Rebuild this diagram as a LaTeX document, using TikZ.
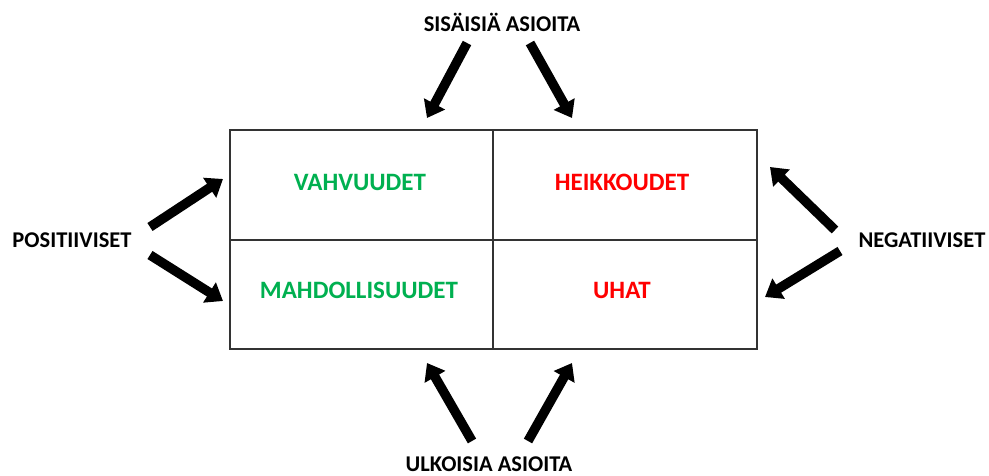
\documentclass[tikz,border=0pt]{standalone}
\usepackage{fontspec}
\setmainfont{Carlito}
\usetikzlibrary{arrows.meta}
\definecolor{swgreen}{HTML}{00B050}
\definecolor{swred}{HTML}{FF0000}
\begin{document}
\begin{tikzpicture}[x=1pt,y=-1pt,
  cell/.style={font=\bfseries\fontsize{25}{28}\selectfont},
  lbl/.style={font=\bfseries\fontsize{22.5}{26}\selectfont, text=black},
  bigarrow/.style={line width=9.5pt, -{Triangle[width=23pt,length=16pt]}, black}]
\useasboundingbox (0,0) rectangle (989,476);
\draw[line width=1.2pt, draw=black!80] (230,130) rectangle (757,349);
\draw[line width=1.2pt, draw=black!80] (493,130) -- (493,349);
\draw[line width=1.2pt, draw=black!80] (230,240) -- (757,240);
\node[cell, text=swgreen] (s) at (360,182) {VAHVUUDET};
\node[cell, text=swred] (w) at (622,182) {HEIKKOUDET};
\node[cell, text=swgreen] (o) at (359,290) {MAHDOLLISUUDET};
\node[cell, text=swred] (t) at (622,290) {UHAT};
\node[lbl] (int) at (502,22) {SISÄISIÄ ASIOITA};
\node[lbl] (ext) at (489,464) {ULKOISIA ASIOITA};
\node[lbl] (pos) at (72,240) {POSITIIVISET};
\node[lbl] (neg) at (922,240) {NEGATIIVISET};
\coordinate (a1) at (467,43); \coordinate (b1) at (427,118);
\coordinate (a2) at (530,43); \coordinate (b2) at (572,118);
\coordinate (a3) at (150,227); \coordinate (b3) at (223,179);
\coordinate (a4) at (150,255); \coordinate (b4) at (223,301);
\coordinate (a5) at (835,230); \coordinate (b5) at (770,167);
\coordinate (a6) at (840,251); \coordinate (b6) at (765,297);
\coordinate (a7) at (472,441); \coordinate (b7) at (427,363);
\coordinate (a8) at (528,441); \coordinate (b8) at (572,363);
\foreach \i in {1,...,8} {\draw[bigarrow] (a\i) -- (b\i);}
\end{tikzpicture}
\end{document}
